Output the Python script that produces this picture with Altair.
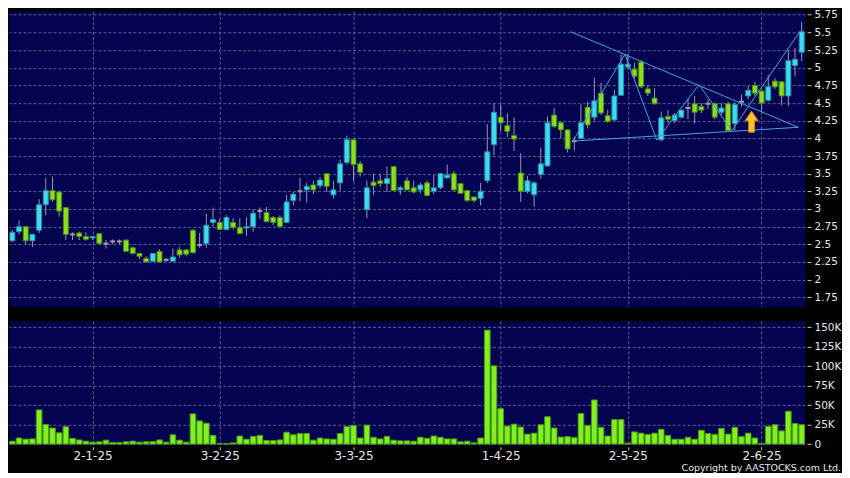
import altair as alt
import pandas as pd

# ---------------- data ----------------
opens = [2.55, 2.68, 2.75, 2.55, 2.70, 3.06, 3.26, 3.24, 3.02, 2.64, 2.66, 2.61, 2.59, 2.65, 2.51,
         2.54, 2.54, 2.56, 2.45, 2.37, 2.30, 2.26, 2.40, 2.28, 2.26, 2.42, 2.42, 2.70, 2.49, 2.51,
         2.81, 2.81, 2.71, 2.81, 2.74, 2.73, 2.75, 2.97, 2.95, 2.88, 2.88, 2.81, 3.12, 3.25, 3.27,
         3.34, 3.33, 3.50, 3.20, 3.37,
         3.66, 3.98, 3.64, 2.99, 3.38, 3.40, 3.36, 3.60, 3.27, 3.40, 3.30, 3.27, 3.37, 3.25, 3.30,
         3.44, 3.50, 3.36, 3.26, 3.17,
         3.15, 3.40, 3.91, 4.30, 4.18, 4.04, 3.51, 3.25, 3.20, 3.49, 3.61, 4.33, 4.22, 4.12, 3.96,
         4.00, 4.44, 4.30, 4.64, 4.32,
         4.26, 4.61, 5.01, 4.98, 5.08, 4.70, 4.57, 3.98, 4.31, 4.25, 4.30, 4.43, 4.49, 4.45, 4.49,
         4.49, 4.37, 4.49, 4.21, 4.52,
         4.60, 4.75, 4.67, 4.54, 4.81, 4.80, 4.60, 5.03, 5.22]
highs = [2.70, 2.84, 2.75, 2.65, 3.14, 3.44, 3.46, 3.26, 3.03, 2.67, 2.68, 2.67, 2.62, 2.66, 2.56,
         2.57, 2.57, 2.57, 2.47, 2.38, 2.33, 2.37, 2.43, 2.30, 2.44, 2.46, 2.43, 2.71, 2.66, 2.93,
         3.02, 2.86, 2.91, 2.87, 2.87, 2.88, 2.99, 3.02, 3.03, 2.90, 2.91, 3.20, 3.24, 3.44, 3.37,
         3.40, 3.45, 3.50, 3.40, 3.70,
         4.04, 3.99, 3.68, 3.40, 3.50, 3.50, 3.60, 3.60, 3.33, 3.45, 3.40, 3.37, 3.40, 3.48, 3.51,
         3.63, 3.54, 3.37, 3.27, 3.17,
         3.37, 4.20, 4.50, 4.48, 4.35, 4.30, 3.79, 3.47, 3.39, 3.87, 4.31, 4.43, 4.24, 4.13, 4.02,
         4.48, 4.52, 4.86, 4.79, 4.40,
         4.69, 5.19, 5.19, 5.07, 5.11, 4.76, 4.71, 4.38, 4.40, 4.36, 4.40, 4.56, 4.60, 4.50, 4.55,
         4.51, 4.50, 4.52, 4.51, 4.62,
         4.74, 4.80, 4.68, 4.90, 4.85, 4.81, 5.25, 5.28, 5.65]
lows = [2.53, 2.64, 2.50, 2.46, 2.66, 2.91, 3.10, 2.89, 2.56, 2.56, 2.56, 2.55, 2.56, 2.50, 2.44,
        2.50, 2.50, 2.39, 2.36, 2.29, 2.25, 2.25, 2.24, 2.25, 2.26, 2.31, 2.33, 2.37, 2.45, 2.45,
        2.74, 2.70, 2.70, 2.71, 2.65, 2.62, 2.68, 2.86, 2.81, 2.77, 2.74, 2.80, 3.05, 3.11, 3.09,
        3.21, 3.29, 3.24, 3.15, 3.26,
        3.63, 3.39, 3.46, 2.87, 3.20, 3.31, 3.24, 3.26, 3.20, 3.26, 3.22, 3.22, 3.19, 3.21, 3.28,
        3.43, 3.26, 3.21, 3.10, 3.09,
        3.05, 3.37, 3.76, 4.10, 4.02, 3.82, 3.10, 3.22, 3.03, 3.43, 3.60, 4.15, 4.00, 3.80, 3.83,
        3.99, 4.14, 4.25, 4.33, 4.22,
        4.25, 4.60, 4.98, 4.85, 4.71, 4.60, 4.48, 3.96, 4.22, 4.22, 4.28, 4.27, 4.21, 4.36, 4.42,
        4.27, 4.33, 4.10, 4.11, 4.45,
        4.55, 4.60, 4.38, 4.52, 4.70, 4.47, 4.46, 4.88, 5.09]
closes = [2.67, 2.75, 2.55, 2.64, 3.06, 3.26, 3.13, 2.97, 2.64, 2.64, 2.61, 2.57, 2.61, 2.51, 2.51,
          2.54, 2.54, 2.40, 2.37, 2.33, 2.25, 2.37, 2.25, 2.28, 2.32, 2.35, 2.36, 2.38, 2.49, 2.77,
          2.85, 2.71, 2.88, 2.74, 2.65, 2.75, 2.94, 2.97, 2.82, 2.81, 2.75, 3.10, 3.21, 3.25, 3.32,
          3.27, 3.41, 3.32, 3.27, 3.64,
          3.98, 3.63, 3.52, 3.30, 3.33, 3.36, 3.43, 3.26, 3.30, 3.27, 3.24, 3.34, 3.19, 3.30, 3.50,
          3.48, 3.27, 3.22, 3.12, 3.12,
          3.25, 3.81, 4.37, 4.22, 4.10, 3.99, 3.25, 3.40, 3.37, 3.64, 4.22, 4.17, 4.12, 3.85, 3.96,
          4.22, 4.19, 4.53, 4.36, 4.24,
          4.60, 5.05, 5.05, 4.88, 4.73, 4.64, 4.49, 4.29, 4.27, 4.33, 4.40, 4.43, 4.37, 4.40, 4.49,
          4.30, 4.43, 4.11, 4.48, 4.52,
          4.68, 4.64, 4.50, 4.73, 4.73, 4.60, 5.10, 5.12, 5.51]
volumes_k = [3.7, 7.8, 6.2, 6.6, 43.8, 25.2, 20.6, 14.4, 22.3, 7.4, 5.3, 3.7, 2.5, 2.9, 5.0,
             2.1, 2.1, 2.9, 3.7, 2.5, 2.9, 3.3, 5.3, 2.5, 11.9, 5.0, 2.5, 38.8, 29.7, 26.8,
             11.2, 0.4, 0.4, 1.5, 10.3, 6.2, 9.9, 11.2, 4.5, 4.5, 5.3, 15.2, 11.9, 13.6, 13.6,
             5.0, 7.8, 6.6, 6.2, 13.6,
             22.3, 23.9, 7.8, 24.3, 8.7, 6.6, 9.9, 5.0, 4.1, 4.1, 3.7, 8.7, 7.4, 10.3, 8.7,
             6.6, 6.6, 2.9, 3.7, 1.6,
             7.8, 146.3, 100.4, 45.4, 23.1, 25.6, 21.9, 12.8, 14.0, 24.8, 35.1, 20.6, 9.0, 9.5, 8.3,
             39.2, 23.9, 56.6, 21.5, 10.3,
             31.4, 31.4, 1.2, 15.6, 14.0, 12.4, 14.0, 19.0, 11.2, 6.2, 6.2, 8.7, 6.2, 17.7, 13.6,
             12.4, 20.2, 12.8, 21.5, 9.5,
             14.0, 7.8, 0.5, 22.7, 24.8, 16.9, 42.1, 26.4, 24.8]

tick_pos = [12, 31, 51, 73, 92, 112]
tick_labels = ["2-1-25", "3-2-25", "3-3-25", "1-4-25", "2-5-25", "2-6-25"]
price_ticks = [1.75, 2, 2.25, 2.5, 2.75, 3, 3.25, 3.5, 3.75, 4, 4.25, 4.5, 4.75, 5, 5.25, 5.5, 5.75]
vol_ticks = [0, 25000, 50000, 75000, 100000, 125000, 150000]

# drawn annotations (trading-day index, price)
upper_line = [(83.45, 5.51), (117.5, 4.157)]
lower_line = [(83.8, 3.961), (117.5, 4.157)]
zigzag = [(83.8, 3.961), (91.57, 5.19), (96.34, 3.976), (102.64, 4.76), (107.56, 4.11), (117.7, 5.51)]
arrow_pt = [(110.5, 4.236)]
copyright = "Copyright by AASTOCKS.com Ltd."

# ---------------- styling ----------------
NAVY = "#03034f"
CYAN, CYAN_EDGE = "#3cdcf0", "#2a8fa8"
GREEN, GREEN_EDGE = "#88e020", "#4f8a14"
DOJI = "#a0a0a0"
WICK = "#9a9aae"
VOL, VOL_EDGE = "#80f020", "#4a9a10"
LINE = "#4aa3df"
GRID = "#5d5d94"
TXT = "#e8e8e8"
FONT = "DejaVu Sans"

W, PH, VH = 797, 296, 124

df = pd.DataFrame({"i": list(range(len(opens))), "open": opens, "high": highs,
                   "low": lows, "close": closes, "vol": [v * 1000 for v in volumes_k]})
df["dir"] = ["up" if c > o else ("down" if c < o else "flat") for o, c in zip(opens, closes)]

lines_rows = []
for name, pts in [("upper", upper_line), ("lower", lower_line), ("zig", zigzag)]:
    for k, (xx, yy) in enumerate(pts):
        lines_rows.append({"seg": name, "o": k, "i": xx, "p": yy})
lines_df = pd.DataFrame(lines_rows)
arrow_df = pd.DataFrame([{"i": a, "p": b} for a, b in arrow_pt])

xs = alt.Scale(domain=[-0.5, 118.5], nice=False, zero=False)
ys = alt.Scale(domain=[1.613, 5.7995], nice=False, zero=False)
vs = alt.Scale(domain=[-900, 158100], nice=False, zero=False)

x_axis_price = alt.Axis(values=tick_pos, labels=False, ticks=False, domain=False, grid=True, title=None)
y_axis_price = alt.Axis(orient="right", values=price_ticks, labelExpr="datum.value + ''",
                        tickSize=4, offset=2, labelPadding=3, domain=False, grid=True, title=None)

lab_expr = "''"
for p, l in reversed(list(zip(tick_pos, tick_labels))):
    lab_expr = f"datum.value == {p} ? '{l}' : ({lab_expr})"
x_axis_vol = alt.Axis(values=tick_pos, labelExpr=lab_expr, tickSize=3, offset=2, labelPadding=1,
                      labelFontSize=12, domain=False, grid=True, title=None, labelFlush=False)
y_axis_vol = alt.Axis(orient="right", values=vol_ticks,
                      labelExpr="datum.value == 0 ? '0' : (datum.value / 1000) + 'K'",
                      tickSize=4, offset=2, labelPadding=3, domain=False, grid=True, title=None)

base = alt.Chart(df)

wicks = base.mark_rule(color=WICK, strokeWidth=1).encode(
    x=alt.X("i:Q", scale=xs, axis=x_axis_price),
    y=alt.Y("low:Q", scale=ys, axis=y_axis_price),
    y2="high:Q",
)

bodies = base.transform_filter("datum.dir != 'flat'").transform_calculate(
    x1="datum.i - 0.37", x2="datum.i + 0.37"
).mark_rect(strokeWidth=1).encode(
    x=alt.X("x1:Q", scale=xs, axis=x_axis_price),
    x2="x2:Q",
    y=alt.Y("open:Q", scale=ys, axis=y_axis_price),
    y2="close:Q",
    fill=alt.Fill("dir:N", scale=alt.Scale(domain=["up", "down"], range=[CYAN, GREEN]), legend=None),
    stroke=alt.Stroke("dir:N", scale=alt.Scale(domain=["up", "down"], range=[CYAN_EDGE, GREEN_EDGE]), legend=None),
)

dojis = base.transform_filter("datum.dir == 'flat'").transform_calculate(
    x1="datum.i - 0.37", x2="datum.i + 0.37"
).mark_rule(color=DOJI, strokeWidth=2).encode(
    x=alt.X("x1:Q", scale=xs, axis=x_axis_price),
    x2="x2:Q",
    y=alt.Y("open:Q", scale=ys, axis=y_axis_price),
)

trend = alt.Chart(lines_df).mark_line(color=LINE, strokeWidth=1).encode(
    x=alt.X("i:Q", scale=xs, axis=x_axis_price),
    y=alt.Y("p:Q", scale=ys, axis=y_axis_price),
    detail="seg:N",
    order="o:Q",
)

ARROW = "M0,-1L0.62,-0.08L0.27,-0.08L0.27,1L-0.27,1L-0.27,-0.08L-0.62,-0.08Z"
arrow = alt.Chart(arrow_df).mark_point(shape=ARROW, size=441, filled=True, fill="#f7c331",
                                       stroke="#e08c10", strokeWidth=1, opacity=1).encode(
    x=alt.X("i:Q", scale=xs, axis=x_axis_price),
    y=alt.Y("p:Q", scale=ys, axis=y_axis_price),
)

price = alt.layer(wicks, bodies, dojis, trend, arrow).properties(width=W, height=PH)

vbars = base.transform_calculate(
    x1="datum.i - 0.42", x2="datum.i + 0.42", zero="0"
).mark_rect(fill=VOL, stroke=VOL_EDGE, strokeWidth=1).encode(
    x=alt.X("x1:Q", scale=xs, axis=x_axis_vol),
    x2="x2:Q",
    y=alt.Y("vol:Q", scale=vs, axis=y_axis_vol),
    y2="zero:Q",
)

ctext = alt.Chart(pd.DataFrame({"t": [copyright]})).mark_text(
    align="right", baseline="alphabetic", fontSize=9.5, font=FONT, color=TXT
).encode(text="t:N", x=alt.value(W + 36), y=alt.value(VH + 26))

volume = alt.layer(vbars, ctext).properties(width=W, height=VH)

chart = alt.vconcat(price, volume, spacing=12).properties(
    padding=0, background="#000000"
).configure_view(
    fill=NAVY, stroke="transparent"
).configure_axis(
    labelFont=FONT, labelColor=TXT, labelFontSize=10.5, tickColor="#c8c8c8",
    gridColor=GRID, gridDash=[3, 2], gridWidth=1, gridOpacity=1,
)

chart.save("out.html", embed_options={"renderer": "svg", "actions": False})
